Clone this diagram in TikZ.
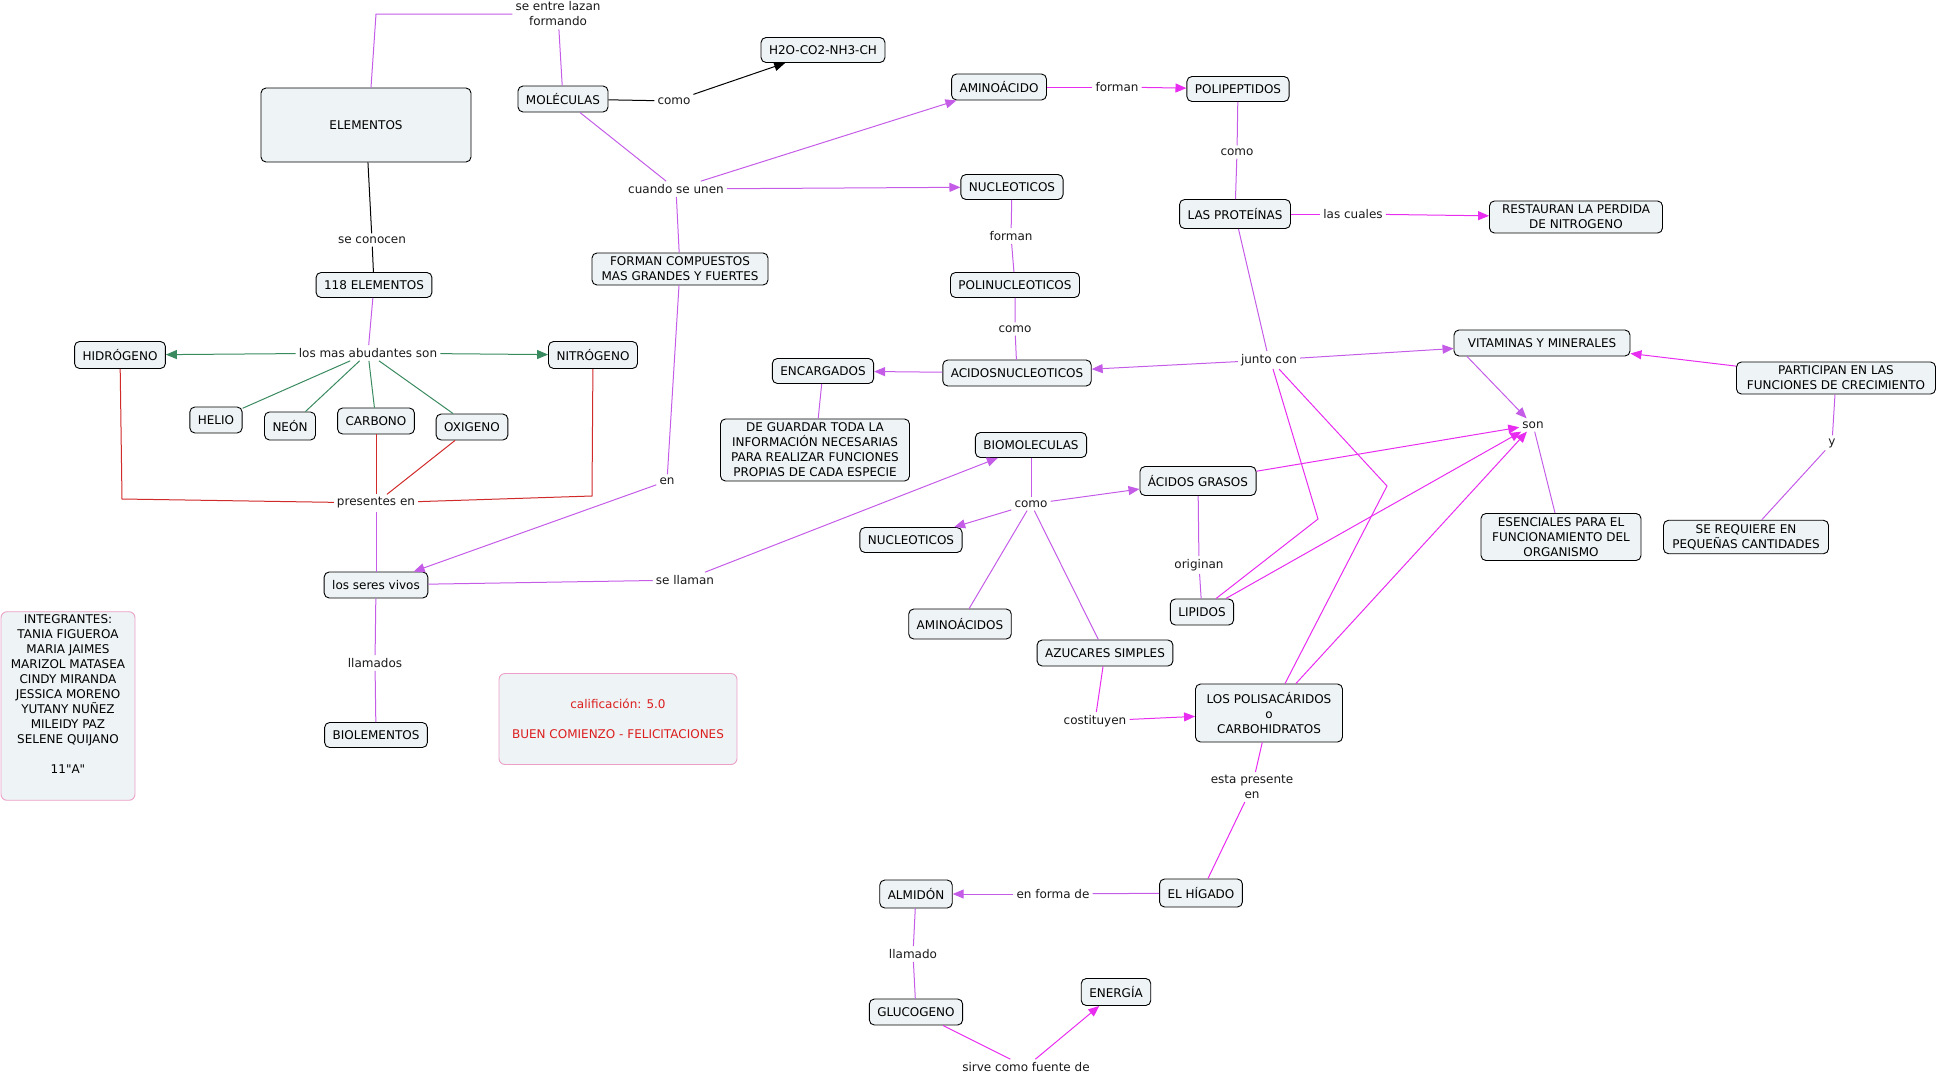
\documentclass[tikz,border=0pt]{standalone}
\usepackage{fontspec}
\setmainfont{DejaVu Sans}[Ligatures=TeXOff]
\usetikzlibrary{arrows.meta}
\definecolor{boxfill}{RGB}{238,243,245}
\definecolor{cvio}{RGB}{196,92,232}
\definecolor{cmag}{RGB}{232,44,240}
\definecolor{cgrn}{RGB}{58,138,96}
\definecolor{cred}{RGB}{208,42,42}
\definecolor{cpink}{RGB}{236,160,200}
\definecolor{calif}{RGB}{220,30,30}

\begin{document}
\begin{tikzpicture}[
  x=1pt, y=-1pt,
  >={Triangle[length=11pt,width=9pt]},
  every node/.style={font=\fontsize{12}{15}\selectfont},
  cbox/.style={draw, rounded corners=5pt, fill=boxfill, line width=0.9pt, align=center, minimum height=26pt, inner xsep=8pt, inner ysep=4pt},
  pbox/.style={draw=cpink, rounded corners=6pt, fill=boxfill, line width=0.9pt, align=center},
  lbl/.style={align=center, inner sep=3pt, text=black!90},
  vl/.style={cvio, line width=1pt},
  ml/.style={cmag, line width=1pt},
  gl/.style={cgrn, line width=1pt},
  rl/.style={cred, line width=1pt},
  bl/.style={black, line width=1pt}
]
\useasboundingbox (0,0) rectangle (1938,1076);

% concepts
\node[cbox, minimum width=210pt, minimum height=74pt] (elem) at (366,125) {ELEMENTOS};
\node[cbox] (mol) at (563,99) {MOLÉCULAS};
\node[cbox, minimum height=25pt] (h2o) at (823,50) {H2O-CO2-NH3-CH};
\node[cbox] (amino) at (999,87) {AMINOÁCIDO};
\node[cbox, minimum height=25pt] (polip) at (1238,89) {POLIPEPTIDOS};
\node[cbox, minimum height=25pt] (nuc1) at (1012,187) {NUCLEOTICOS};
\node[cbox, minimum height=29pt] (prot) at (1235,214) {LAS PROTEÍNAS};
\node[cbox, minimum width=173pt] (rest) at (1576,217) {RESTAURAN LA PERDIDA\\DE NITROGENO};
\node[cbox, minimum height=25pt] (e118) at (374,285) {118 ELEMENTOS};
\node[cbox, minimum width=176pt] (fcomp) at (680,269) {FORMAN COMPUESTOS\\MAS GRANDES Y FUERTES};
\node[cbox, minimum height=25pt] (polinuc) at (1015,285) {POLINUCLEOTICOS};
\node[cbox, minimum height=27pt] (hidro) at (120,355) {HIDRÓGENO};
\node[cbox, minimum height=27pt] (nitro) at (593,355) {NITRÓGENO};
\node[cbox, minimum height=25pt] (encarg) at (823,371) {ENCARGADOS};
\node[cbox] (acidos) at (1017,373) {ACIDOSNUCLEOTICOS};
\node[cbox, minimum width=176pt] (vitam) at (1542,343) {VITAMINAS Y MINERALES};
\node[cbox, minimum width=199pt] (partic) at (1836,378) {PARTICIPAN EN LAS\\FUNCIONES DE CRECIMIENTO};
\node[cbox] (helio) at (216,420) {HELIO};
\node[cbox, minimum height=28pt] (neon) at (290,426) {NEÓN};
\node[cbox] (carb) at (376,421) {CARBONO};
\node[cbox] (oxi) at (472,427) {OXIGENO};
\node[cbox, minimum width=189pt] (guardar) at (815,450) {DE GUARDAR TODA LA\\INFORMACIÓN NECESARIAS\\PARA REALIZAR FUNCIONES\\PROPIAS DE CADA ESPECIE};
\node[cbox, minimum height=25pt] (biomol) at (1031,445) {BIOMOLECULAS};
\node[cbox, minimum height=29pt] (grasos) at (1198,481) {ÁCIDOS GRASOS};
\node[cbox, minimum height=25pt] (nuc2) at (911,540) {NUCLEOTICOS};
\node[cbox, minimum width=160pt] (esenc) at (1561,537) {ESENCIALES PARA EL\\FUNCIONAMIENTO DEL\\ORGANISMO};
\node[cbox, minimum width=165pt] (requiere) at (1746,537) {SE REQUIERE EN\\PEQUEÑAS CANTIDADES};
\node[cbox] (seres) at (376,585) {los seres vivos};
\node[cbox] (lipidos) at (1202,612) {LIPIDOS};
\node[cbox, minimum height=30pt] (aminos) at (960,624) {AMINOÁCIDOS};
\node[cbox] (azuc) at (1105,653) {AZUCARES SIMPLES};
\node[cbox, minimum width=147pt, minimum height=58pt] (polisac) at (1269,713) {LOS POLISACÁRIDOS\\o\\CARBOHIDRATOS};
\node[cbox, minimum height=25pt] (biolem) at (376,735) {BIOLEMENTOS};
\node[cbox, minimum height=28pt] (higado) at (1201,893) {EL HÍGADO};
\node[cbox, minimum height=28pt] (almidon) at (916,894) {ALMIDÓN};
\node[cbox] (gluco) at (916,1012) {GLUCOGENO};
\node[cbox, minimum height=27pt] (energia) at (1116,992) {ENERGÍA};

% notes
\node[pbox, minimum width=134pt, minimum height=187pt] (integ) at (68,706) {INTEGRANTES:\\TANIA FIGUEROA\\MARIA JAIMES\\MARIZOL MATASEA\\CINDY MIRANDA\\JESSICA MORENO\\YUTANY NUÑEZ\\MILEIDY PAZ\\SELENE QUIJANO\\[15pt]11"A"\\[8pt]};
\node[pbox, minimum width=238pt, minimum height=91pt, text=calif] (calif) at (618,719) {calificación: 5.0\\[15pt]BUEN COMIENZO - FELICITACIONES};

% linking phrases
\node[lbl] (entre) at (558,14) {se entre lazan\\formando};
\node[lbl] (como1) at (674,101) {como};
\node[lbl] (unen) at (676,189) {cuando se unen};
\node[lbl] (forman1) at (1117,87) {forman};
\node[lbl] (como2) at (1237,152) {como};
\node[lbl] (cuales) at (1353,214) {las cuales};
\node[lbl] (conocen) at (372,240) {se conocen};
\node[lbl] (forman2) at (1011,236) {forman};
\node[lbl] (como3) at (1015,329) {como};
\node[lbl] (abund) at (368,353) {los mas abudantes son};
\node[lbl] (junto) at (1269,360) {junto con};
\node[lbl] (son) at (1533,425) {son};
\node[lbl] (yy) at (1832,443) {y};
\node[lbl] (presentes) at (376,503) {presentes en};
\node[lbl] (en1) at (667,481) {en};
\node[lbl] (como4) at (1031,504) {como};
\node[lbl] (originan) at (1199,565) {originan};
\node[lbl] (llaman) at (685,580) {se llaman};
\node[lbl] (llamados) at (375,663) {llamados};
\node[lbl] (costit) at (1095,721) {costituyen};
\node[lbl] (estapres) at (1252,787) {esta presente\\en};
\node[lbl] (formade) at (1053,894) {en forma de};
\node[lbl] (llamado) at (913,954) {llamado};
\node[lbl] (sirve) at (1026,1067) {sirve como fuente de};

% bends
\coordinate (k1) at (376,14);
\coordinate (k2) at (122,499);
\coordinate (k3) at (592,496);
\coordinate (k4) at (1318,519);
\coordinate (k5) at (1387,486);

% connectors
\draw[vl] ([xshift=5pt]elem.north) -- (k1) -- (entre.west);
\draw[vl] (entre) -- (mol);
\draw[bl] (mol) -- (como1);
\draw[bl,->] (como1) -- (h2o);
\draw[vl] (mol) -- (unen);
\draw[vl,->] (unen) -- (amino);
\draw[vl,->] (unen) -- (nuc1);
\draw[vl] (unen) -- (fcomp) -- (en1);
\draw[vl,->] (en1) -- (seres);
\draw[bl] (elem) -- (conocen) -- (e118);
\draw[vl] (e118) -- (abund);
\draw[gl,->] (abund) -- (hidro);
\draw[gl,->] (abund) -- (nitro);
\draw[gl] (abund) -- (helio);
\draw[gl] (abund) -- (neon);
\draw[gl] (abund) -- (carb);
\draw[gl] (abund) -- (oxi);
\draw[rl] (hidro) -- (k2) -- (presentes);
\draw[rl] (nitro) -- (k3) -- (presentes);
\draw[rl] (carb) -- (presentes);
\draw[rl] (oxi) -- (presentes);
\draw[vl] (presentes) -- (seres);
\draw[vl] (seres) -- (llamados) -- (biolem);
\draw[vl] (seres) -- (llaman);
\draw[vl,->] (llaman) -- (biomol);
\draw[ml] (amino) -- (forman1);
\draw[ml,->] (forman1) -- (polip);
\draw[vl] (polip) -- (como2) -- (prot);
\draw[ml] (prot) -- (cuales);
\draw[ml,->] (cuales) -- (rest);
\draw[vl] (nuc1) -- (forman2) -- (polinuc);
\draw[vl] (polinuc) -- (como3) -- (acidos);
\draw[vl,->] (acidos) -- (encarg);
\draw[vl] (encarg) -- (guardar);
\draw[vl] (prot) -- (junto);
\draw[vl,->] (junto) -- (acidos);
\draw[vl,->] (junto) -- (vitam);
\draw[ml] ([xshift=4pt]junto.south) -- (k4) -- ([xshift=14pt]lipidos.north);
\draw[ml] ([xshift=10pt]junto.south) -- (k5) -- ([xshift=16pt]polisac.north);
\draw[vl,->] ([xshift=-75pt]vitam.south) -- (son);
\draw[ml,->] (grasos) -- (son);
\draw[ml,->] (lipidos) -- (son);
\draw[ml,->] (polisac) -- (son);
\draw[vl] (son) -- (esenc);
\draw[ml,->] (partic) -- (vitam);
\draw[vl] (partic) -- (yy) -- (requiere);
\draw[vl] (biomol) -- (como4);
\draw[vl,->] (como4) -- (grasos);
\draw[vl,->] (como4) -- (nuc2);
\draw[vl] (como4) -- (aminos);
\draw[vl] (como4) -- (azuc);
\draw[vl] (grasos) -- (originan) -- (lipidos);
\draw[ml] (azuc) -- (costit);
\draw[ml,->] (costit) -- (polisac);
\draw[ml] (polisac) -- (estapres) -- (higado);
\draw[vl] (higado) -- (formade);
\draw[vl,->] (formade) -- (almidon);
\draw[vl] (almidon) -- (llamado) -- (gluco);
\draw[ml] (gluco) -- (sirve);
\draw[ml,->] (sirve) -- (energia);
\end{tikzpicture}
\end{document}
